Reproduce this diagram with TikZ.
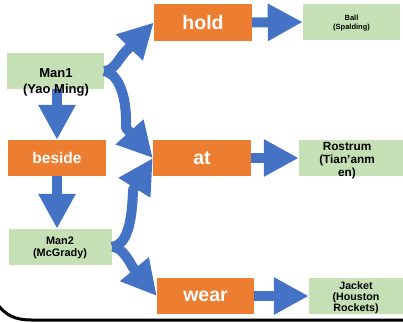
\documentclass[tikz,border=0pt]{standalone}
\usepackage{fontspec}
\setmainfont{Liberation Sans}
\usetikzlibrary{arrows.meta}
\definecolor{relorange}{HTML}{ED7D31}
\definecolor{entgreen}{HTML}{C5E0B4}
\definecolor{linkblue}{HTML}{4472C4}
\begin{document}
\begin{tikzpicture}[x=1pt,y=-1pt,
  relation/.style={fill=relorange, text=white, inner sep=0pt,
    minimum width=98pt, minimum height=36pt,
    font=\bfseries\fontsize{19.5}{20}\selectfont},
  entity/.style={fill=entgreen, inner sep=0pt, minimum height=36pt},
  entitytext/.style={align=center, inner sep=0pt, text=black},
  flow/.style={draw=linkblue, line width=10pt, line join=round,
    -{Triangle[length=35pt,width=35pt]}},
]
\useasboundingbox (0,0) rectangle (403,322);

% entities (green boxes)
\node[entity, minimum width=97pt] (man1) at (55.5,71) {};
\node[entity, minimum width=103pt] (man2) at (60.5,247) {};
\node[entity, minimum width=97pt] (ball) at (351.5,22) {};
\node[entity, minimum width=104pt] (rostrum) at (351,158) {};
\node[entity, minimum width=94pt] (jacket) at (356,296) {};

% relations (orange boxes)
\node[relation, minimum height=37pt] (hold) at (203,22.5) {hold};
\node[relation] (at) at (202,158) {at};
\node[relation, minimum width=97pt] (wear) at (205.5,296) {wear};
\node[relation, font=\bfseries\fontsize{15.5}{16}\selectfont] (beside) at (57,158) {beside};

% bend points where the curved shafts meet their heads
\coordinate (k1) at (126,51);
\coordinate (k2) at (126,128);
\coordinate (k3) at (133,190);
\coordinate (k4) at (132.6,267);

% straight links
\draw[flow] (hold.east) -- (ball.west);
\draw[flow] (at.east) -- (rostrum.west);
\draw[flow] (wear.east) -- (jacket.west);
\draw[flow] (man1.south -| beside.north) -- (beside.north);
\draw[flow] (beside.south) -- (beside.south |- man2.north);

% curved links
\draw[flow] (man1.east) .. controls +(10,0) and +(-7,7) .. (k1) -- (hold.west);
\draw[flow] (man1.east) .. controls +(18,4) and +(1,-23) .. (k2) -- (at.west);
\draw[flow] (man2.east) .. controls +(14,-2) and +(-1,35) .. (k3) -- (at.west);
\draw[flow] (man2.east) .. controls +(8,0) and +(-6,-11) .. (k4) -- (wear.west);

% entity captions, set above the links
\node[entitytext, font=\bfseries\fontsize{13}{16}\selectfont] (man1-text) at (56,82.5) {Man1\\(Yao Ming)};
\node[entitytext, font=\bfseries\fontsize{10.9}{12}\selectfont] (man2-text) at (60,248) {Man2\\(McGrady)};
\node[entitytext, font=\bfseries\fontsize{7.5}{8.5}\selectfont] (ball-text) at (351.5,23) {Ball\\(Spalding)};
\node[entitytext, font=\bfseries\fontsize{11.8}{13}\selectfont] (rostrum-text) at (347,160.5) {Rostrum\\(Tian’anm\\en)};
\node[entitytext, font=\bfseries\fontsize{10.7}{11}\selectfont] (jacket-text) at (356,297.5) {Jacket\\(Houston\\Rockets)};

% frame edge along the bottom
\draw[line width=3pt] (-3,304) .. controls (6,315) and (14,320) .. (32,320) -- (410,320);
\end{tikzpicture}
\end{document}
